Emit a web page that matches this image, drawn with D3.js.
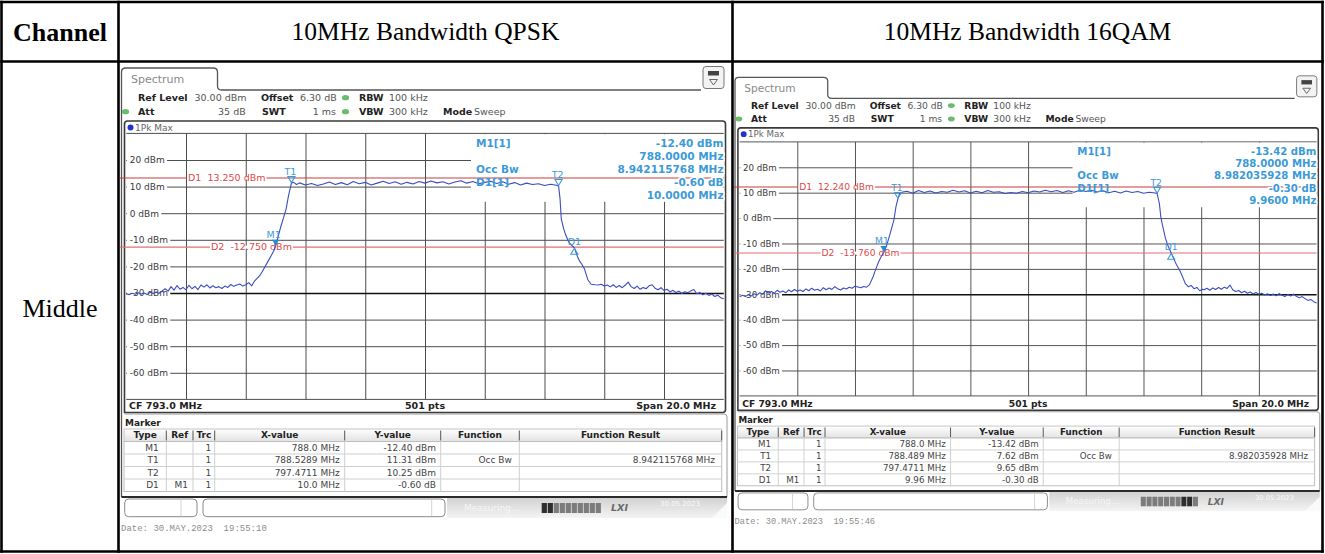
<!DOCTYPE html>
<html><head><meta charset="utf-8">
<script src="https://d3js.org/d3.v7.min.js"></script>
<style>
html,body{margin:0;padding:0;background:#fff;}
svg{display:block;}
text{white-space:pre;}
</style></head><body>
<svg id="chart" width="1325" height="554"></svg>
<script>
// ================= DATA =================
const headerLabels = ["Channel", "10MHz Bandwidth QPSK", "10MHz Bandwidth 16QAM"];
const rowLabels = ["Middle"];
const freqSpan = [783.0, 803.0];          // MHz  (CF 793.0 MHz, Span 20.0 MHz)
const levelRange = [30, -70];             // dBm  (Ref Level 30 dBm, 10 dB/div)
const levelTicks = [20, 10, 0, -10, -20, -30, -40, -50, -60];
const freqGridLines = [785, 787, 789, 791, 793, 795, 797, 799, 801];
const settingsLine1 = [["Ref Level", 1], ["30.00 dBm", 0], ["Offset", 1], ["6.30 dB", 0], ["RBW", 1], ["100 kHz", 0]];
const settingsLine2 = [["Att", 1], ["35 dB", 0], ["SWT", 1], ["1 ms", 0], ["VBW", 1], ["300 kHz", 0], ["Mode", 1], ["Sweep", 0]];
const footerLabels = ["CF 793.0 MHz", "501 pts", "Span 20.0 MHz"];
const tableHeaders = ["Type", "Ref", "Trc", "X-value", "Y-value", "Function", "Function Result"];

// QPSK trace [MHz, dBm]
const qpskTrace = [
[783.0,-30.3],[783.1,-30.6],[783.2,-30.1],[783.3,-30.5],[783.4,-29.9],[783.5,-30.4],[783.6,-30.0],[783.7,-30.6],[783.8,-29.7],[783.9,-30.2],
[784.0,-29.6],[784.1,-30.1],[784.2,-29.2],[784.3,-28.4],[784.4,-29.3],[784.5,-27.6],[784.6,-28.9],[784.7,-27.2],[784.8,-28.6],[784.9,-27.9],
[785.0,-28.8],[785.1,-27.1],[785.2,-28.4],[785.3,-27.5],[785.4,-28.7],[785.5,-27.0],[785.6,-27.8],[785.7,-26.9],[785.8,-28.1],[785.9,-27.3],
[786.0,-28.0],[786.1,-27.6],[786.2,-28.3],[786.3,-27.4],[786.4,-27.9],[786.5,-26.8],[786.6,-27.5],[786.7,-27.0],[786.8,-26.6],[786.9,-27.4],
[787.0,-26.9],[787.1,-26.1],[787.2,-27.3],[787.3,-25.4],[787.46,-23.6],[787.55,-22.0],[787.63,-20.4],[787.74,-18.2],[787.85,-16.0],[787.93,-14.3],
[788.0,-12.4],[788.08,-9.0],[788.18,-4.8],[788.27,-1.5],[788.35,1.5],[788.43,6.5],[788.5289,11.31],[788.6,11.6],[788.7,10.8],
[788.8,11.4],[789.0,10.6],[789.2,11.2],[789.4,10.4],[789.6,11.0],[789.8,11.7],[790.0,10.8],[790.2,11.5],[790.4,10.7],[790.6,11.9],
[790.8,11.1],[791.0,11.6],[791.2,10.6],[791.4,11.3],[791.6,12.0],[791.8,11.2],[792.0,11.8],[792.2,10.9],[792.4,11.6],[792.6,11.0],
[792.8,11.9],[793.0,11.3],[793.2,12.1],[793.4,11.4],[793.6,11.8],[793.8,11.0],[794.0,11.7],[794.2,12.2],[794.4,11.3],[794.6,11.9],
[794.8,11.1],[795.0,11.6],[795.2,12.0],[795.4,11.2],[795.6,11.8],[795.8,10.9],[796.0,11.5],[796.2,10.6],[796.4,11.3],[796.6,10.8],
[796.8,11.1],[797.0,10.4],[797.2,10.9],[797.4,10.5],[797.4711,10.25],
[797.52,5.5],[797.56,-2.0],[797.64,-5.8],[797.72,-8.5],[797.82,-11.0],[797.9,-12.0],[798.0,-13.0],[798.1,-16.2],[798.17,-17.9],[798.25,-19.2],
[798.34,-21.0],[798.45,-25.0],[798.56,-26.7],[798.7,-26.9],[798.8,-27.0],[798.9,-26.7],[799.0,-27.4],[799.1,-27.0],[799.2,-27.7],[799.3,-26.9],
[799.4,-27.9],[799.5,-27.2],[799.6,-28.0],[799.7,-27.1],[799.8,-25.9],[799.9,-27.6],[800.0,-28.3],[800.1,-27.4],[800.2,-28.6],[800.3,-27.9],
[800.4,-28.4],[800.5,-27.3],[800.6,-26.9],[800.7,-28.2],[800.8,-28.8],[800.9,-28.0],[801.0,-29.1],[801.1,-28.6],[801.2,-29.6],[801.3,-29.0],
[801.4,-29.8],[801.5,-29.3],[801.6,-30.2],[801.7,-29.5],[801.8,-29.9],[801.9,-29.2],[802.0,-28.7],[802.1,-30.3],[802.2,-29.8],[802.3,-30.7],
[802.4,-30.1],[802.5,-30.9],[802.6,-30.4],[802.7,-31.3],[802.8,-30.8],[802.9,-31.8],[803.0,-32.2]
];
// 16QAM trace [MHz, dBm]
const qam16Trace = [
[783.0,-31.0],[783.1,-30.4],[783.2,-30.9],[783.3,-30.2],[783.4,-30.7],[783.5,-29.8],[783.6,-30.3],[783.7,-29.4],[783.8,-30.0],[783.9,-28.6],
[784.0,-29.5],[784.1,-28.9],[784.2,-29.6],[784.3,-28.4],[784.4,-29.2],[784.5,-28.7],[784.6,-29.4],[784.7,-28.3],[784.8,-29.0],[784.9,-28.1],
[785.0,-28.8],[785.1,-28.3],[785.2,-28.9],[785.3,-27.9],[785.4,-28.6],[785.5,-27.6],[785.6,-28.4],[785.7,-28.0],[785.8,-28.7],[785.9,-27.4],
[786.0,-28.2],[786.1,-27.5],[786.2,-28.1],[786.3,-27.0],[786.4,-27.8],[786.5,-28.3],[786.6,-27.5],[786.7,-27.9],[786.8,-27.2],[786.9,-27.6],
[787.0,-26.8],[787.1,-27.1],[787.2,-27.4],[787.3,-26.9],[787.4,-27.2],[787.5,-26.3],[787.63,-23.0],[787.72,-20.1],[787.82,-17.2],[787.9,-15.3],
[788.0,-13.42],[788.1,-10.6],[788.22,-6.0],[788.35,-0.7],[788.42,4.5],[788.489,7.62],[788.55,9.8],[788.65,10.3],
[788.8,10.6],[789.0,9.8],[789.2,10.9],[789.4,10.1],[789.6,10.7],[789.8,9.9],[790.0,10.5],[790.2,10.2],[790.4,11.0],[790.6,10.3],
[790.8,10.8],[791.0,9.9],[791.2,10.6],[791.4,10.0],[791.6,10.9],[791.8,10.2],[792.0,10.4],[792.2,9.7],[792.4,10.1],[792.6,9.8],
[792.8,10.5],[793.0,10.0],[793.2,10.7],[793.4,10.3],[793.6,11.0],[793.8,10.4],[794.0,10.9],[794.2,10.1],[794.4,10.8],[794.6,10.2],
[794.8,11.1],[795.0,10.5],[795.2,11.0],[795.4,10.3],[795.6,10.8],[795.8,10.0],[796.0,10.6],[796.2,9.9],[796.4,10.7],[796.6,10.1],
[796.8,10.5],[797.0,9.8],[797.2,10.2],[797.4,9.9],[797.4711,9.65],
[797.55,5.8],[797.6,0.5],[797.65,-2.4],[797.7,-4.8],[797.76,-8.0],[797.85,-10.9],[797.96,-13.72],[798.05,-16.0],[798.15,-18.5],[798.25,-20.4],
[798.35,-23.0],[798.45,-25.8],[798.55,-27.0],[798.65,-26.5],[798.75,-27.8],[798.85,-27.3],[798.95,-28.6],[799.05,-28.0],[799.1,-28.2],[799.2,-27.6],
[799.3,-28.4],[799.4,-27.5],[799.5,-28.1],[799.6,-27.3],[799.7,-28.0],[799.8,-27.2],[799.9,-27.7],[800.0,-26.4],[800.1,-28.3],[800.2,-28.9],
[800.3,-28.5],[800.4,-29.4],[800.5,-28.8],[800.6,-29.6],[800.7,-29.1],[800.8,-29.9],[800.9,-29.3],[801.0,-30.0],[801.1,-29.6],[801.2,-30.3],
[801.3,-29.8],[801.4,-30.5],[801.5,-29.9],[801.6,-30.6],[801.7,-29.7],[801.8,-30.4],[801.9,-30.9],[802.0,-30.1],[802.1,-30.7],[802.2,-29.9],
[802.3,-30.8],[802.4,-31.4],[802.5,-30.9],[802.6,-31.7],[802.7,-32.4],[802.8,-32.0],[802.9,-32.9],[803.0,-33.4]
];

const qpskLines = [["D1", 13.25, "D1  13.250 dBm"], ["D2", -12.75, "D2  -12.750 dBm"]];
const qam16Lines = [["D1", 12.24, "D1  12.240 dBm"], ["D2", -13.76, "D2  -13.760 dBm"]];
const qpskMarkers = [["M1", 788.0, -12.40], ["T1", 788.5289, 11.31], ["T2", 797.4711, 10.25], ["D1", 798.0, -13.00]];
const qam16Markers = [["M1", 788.0, -13.42], ["T1", 788.489, 7.62], ["T2", 797.4711, 9.65], ["D1", 797.96, -13.72]];
const qpskInfo = [["M1[1]", "-12.40 dBm"], ["", "788.0000 MHz"], ["Occ Bw", "8.942115768 MHz"], ["D1[1]", "-0.60 dB"], ["", "10.0000 MHz"]];
const qam16Info = [["M1[1]", "-13.42 dBm"], ["", "788.0000 MHz"], ["Occ Bw", "8.982035928 MHz"], ["D1[1]", "-0.30 dB"], ["", "9.9600 MHz"]];
const qpskTable = [
  ["M1", "", "1", "788.0 MHz", "-12.40 dBm", "", ""],
  ["T1", "", "1", "788.5289 MHz", "11.31 dBm", "Occ Bw", "8.942115768 MHz"],
  ["T2", "", "1", "797.4711 MHz", "10.25 dBm", "", ""],
  ["D1", "M1", "1", "10.0 MHz", "-0.60 dB", "", ""]];
const qam16Table = [
  ["M1", "", "1", "788.0 MHz", "-13.42 dBm", "", ""],
  ["T1", "", "1", "788.489 MHz", "7.62 dBm", "Occ Bw", "8.982035928 MHz"],
  ["T2", "", "1", "797.4711 MHz", "9.65 dBm", "", ""],
  ["D1", "M1", "1", "9.96 MHz", "-0.30 dB", "", ""]];
const qpskDate = "Date: 30.MAY.2023  19:55:10";
const qam16Date = "Date: 30.MAY.2023  19:55:46";

// ================= LAYOUT / STYLE =================
const SANS = "'DejaVu Sans', Verdana, sans-serif";
const MONO = "'Liberation Mono', 'Courier New', monospace";
const SERIF = "'Liberation Serif', 'Times New Roman', serif";
const C_TRACE = "#3a4cc0", C_INFO = "#3c9ad8", C_RED = "#dc4a4a", C_GRID = "#4d4d4d";

const svg = d3.select("#chart");
svg.append("rect").attr("width", 1325).attr("height", 554).attr("fill", "#fff");
const defs = svg.append("defs");

function txt(g, s, x, y, o = {}) {
  return g.append("text").attr("x", x).attr("y", y).attr("dy", "0.35em")
    .attr("font-family", o.family || SANS).attr("font-size", o.size || 9)
    .attr("font-weight", o.bold ? "bold" : "normal").attr("font-style", o.italic ? "italic" : "normal")
    .attr("fill", o.fill || "#333").attr("text-anchor", o.anchor || "start").text(s);
}

function drawPanel(P) {
  const g = svg.append("g").attr("transform", `translate(${P.tx},${P.ty}) scale(${P.sx},${P.sy})`);
  const T = P.topShift, B = P.botShift;
  const x = d3.scaleLinear().domain(freqSpan).range([126.25, 723.75]);
  const y = d3.scaleLinear().domain(levelRange).range([133.4, 399.4]);
  const [gx0, gx1] = x.range(), [gy0, gy1] = y.range();
  const gw = gx1 - gx0, gh = gy1 - gy0;

  // --- tab + header ---
  g.append("path").attr("d",
    `M121.5,${497 + B} V${72 + T} Q121.5,${68 + T} 125.5,${68 + T} H213 Q217.5,${68 + T} 217.5,${72 + T} V${86 + T} Q217.5,${90 + T} 221.5,${90 + T} H701`)
    .attr("fill", "none").attr("stroke", "#555").attr("stroke-width", 1.3);
  txt(g, "Spectrum", 131, 79.5 + T, { size: 11, fill: "#8a8a8a" });
  g.append("rect").attr("x", 703).attr("y", 66.5 + T).attr("width", 21).attr("height", 22).attr("rx", 3)
    .attr("fill", "#f3f3f3").attr("stroke", "#777");
  g.append("rect").attr("x", 708).attr("y", 71 + T).attr("width", 11).attr("height", 4.5).attr("fill", "#444");
  g.append("path").attr("d", `M709.5,${79.5 + T} L717.5,${79.5 + T} L713.5,${85 + T} Z`).attr("fill", "none").attr("stroke", "#666");

  const l1x = [138, 194.5, 261, 300, 359, 389];
  settingsLine1.forEach((d, i) => txt(g, d[0], l1x[i], 97.7 + T, { size: 9.5, bold: d[1], fill: d[1] ? "#222" : "#555" }));
  const l2x = [138, 245.7, 262, 336, 359, 389, 443, 474];
  const l2a = ["start", "end", "start", "end", "start", "start", "start", "start"];
  settingsLine2.forEach((d, i) => txt(g, d[0], l2x[i], 111.7 + T, { size: 9.5, bold: d[1], fill: d[1] ? "#222" : "#555", anchor: l2a[i] }));
  [[345.5, 97.7], [345.5, 111.7], [125.5, 111.7]].forEach(p =>
    g.append("ellipse").attr("cx", p[0]).attr("cy", p[1] + T).attr("rx", 3.6).attr("ry", 2.6).attr("fill", "#6dbb6d"));

  // --- plot frame ---
  g.append("path").attr("d",
    `M124.5,${412.5 + B} V${124 + T} Q124.5,${121 + T} 127.5,${121 + T} H722.5 Q725.5,${121 + T} 725.5,${124 + T} V${409.5 + B} Q725.5,${412.5 + B} 722.5,${412.5 + B} Z`)
    .attr("fill", "#fff").attr("stroke", "#3a3a3a").attr("stroke-width", 1.6);
  g.append("circle").attr("cx", 130.5).attr("cy", 127.6 + T).attr("r", 3).attr("fill", "#2233cc");
  txt(g, "1Pk Max", 135, 127.6 + T, { size: 9, fill: "#666" });

  // vertical grid (axis)
  const vg = g.append("g").attr("transform", `translate(0,${gy1})`)
    .call(d3.axisBottom(x).tickValues(freqGridLines).tickSize(-gh).tickFormat(""));
  vg.select(".domain").remove();
  vg.selectAll("line").attr("stroke", C_GRID).attr("stroke-width", 1);
  g.append("line").attr("x1", gx0).attr("x2", gx1).attr("y1", gy0).attr("y2", gy0).attr("stroke", C_GRID);
  g.append("line").attr("x1", gx0).attr("x2", gx1).attr("y1", gy1).attr("y2", gy1).attr("stroke", C_GRID);
  // horizontal grid (axis with inside labels)
  const hg = g.append("g").attr("transform", `translate(${gx0},0)`)
    .call(d3.axisRight(y).tickValues(levelTicks).tickSize(gw).tickPadding(3.5 - gw).tickFormat(d => d + " dBm"));
  hg.select(".domain").remove();
  hg.attr("font-family", SANS).attr("font-size", 9);
  hg.selectAll("line").attr("stroke", d => d === -30 ? "#111" : C_GRID).attr("stroke-width", d => d === -30 ? 1.5 : 1);
  hg.selectAll("text").attr("fill", "#3a3a3a").attr("text-anchor", "start");
  hg.selectAll(".tick").each(function () {
    const t = d3.select(this).select("text"), bb = t.node().getBBox();
    d3.select(this).insert("rect", "text").attr("x", 0.8).attr("y", bb.y + 1.5)
      .attr("width", bb.x + bb.width + 1.5).attr("height", bb.height - 3).attr("fill", "#fff");
  });
  // info area mask
  g.append("rect").attr("x", 471).attr("y", gy0 + 0.8).attr("width", gx1 - 471 - 0.5).attr("height", 201 - gy0).attr("fill", "#fff");

  // display lines
  P.lines.forEach((d, i) => {
    const yy = y(d[1]);
    g.append("line").attr("x1", 120).attr("x2", gx1).attr("y1", yy).attr("y2", yy)
      .attr("stroke", i === 0 ? "#c83c3c" : "#e07070").attr("stroke-width", 1.1);
    const lx = i === 0 ? 188 : 211;
    const t = txt(g, d[2], lx, yy, { size: 9.5, fill: C_RED });
    const bb = t.node().getBBox();
    g.insert("rect", () => t.node()).attr("x", bb.x - 1).attr("y", yy - 1.5).attr("width", bb.width + 2).attr("height", 3).attr("fill", "#fff");
  });

  // trace
  g.append("path").datum(P.trace).attr("fill", "none").attr("stroke", C_TRACE).attr("stroke-width", 1.1)
    .attr("stroke-linejoin", "round")
    .attr("d", d3.line().x(d => x(d[0])).y(d => y(d[1])));

  // markers
  P.markers.forEach(m => {
    const cx = x(m[1]), cy = y(m[2]), k = m[0][0];
    if (k === "M") {
      g.append("path").attr("d", `M${cx - 3.6},${cy - 6.5} L${cx + 3.6},${cy - 6.5} L${cx},${cy - 0.5} Z`).attr("fill", "#1f8fd6");
      txt(g, m[0], cx - 2, cy - 11.5, { size: 9.5, fill: C_INFO, anchor: "middle" });
    } else if (k === "T") {
      g.append("path").attr("d", `M${cx - 3.6},${cy - 6.5} L${cx + 3.6},${cy - 6.5} L${cx},${cy - 0.5} Z`)
        .attr("fill", "none").attr("stroke", C_INFO).attr("stroke-width", 1.1);
      txt(g, m[0], cx - 1, cy - 11.5, { size: 9.5, fill: C_INFO, anchor: "middle" });
    } else {
      g.append("path").attr("d", `M${cx},${cy + 0.5} L${cx - 3.6},${cy + 6.5} L${cx + 3.6},${cy + 6.5} Z`)
        .attr("fill", "none").attr("stroke", C_INFO).attr("stroke-width", 1.1);
      txt(g, m[0], cx, cy - 6.3, { size: 9.5, fill: C_INFO, anchor: "middle" });
    }
  });

  // marker info block
  P.info.forEach((d, i) => {
    const yy = 143 + i * 13;
    if (d[0]) txt(g, d[0], 476, yy, { size: 10.5, bold: 1, fill: C_INFO });
    txt(g, d[1], 723.5, yy, { size: 10.5, bold: 1, fill: C_INFO, anchor: "end" })
      .attr("stroke", "#fff").attr("stroke-width", 3).attr("paint-order", "stroke");
  });

  // footer of diagram
  txt(g, footerLabels[0], 129, 406 + B, { size: 9.5, bold: 1, fill: "#222" });
  txt(g, footerLabels[1], 425, 406 + B, { size: 9.5, bold: 1, fill: "#222", anchor: "middle" });
  txt(g, footerLabels[2], 716, 406 + B, { size: 9.5, bold: 1, fill: "#222", anchor: "end" });

  // --- marker table ---
  g.append("path").attr("d", `M124.5,${414 + B} H724 Q727,${414 + B} 727,${417 + B} V${497 + B}`)
    .attr("fill", "none").attr("stroke", "#9a9a9a");
  g.append("line").attr("x1", 121.5).attr("x2", 727).attr("y1", 497 + B).attr("y2", 497 + B).attr("stroke", "#2a2a2a").attr("stroke-width", 2);
  txt(g, "Marker", 125, 422.7 + B, { size: 9, bold: 1, fill: "#222" });
  const cb = [124, 166.3, 193, 214.7, 344.7, 440.7, 519.3, 721.7];
  const hTop = 429 + B, hBot = 441.5 + B, rh = 12.5;
  const grad = "hg" + P.id;
  const lg = defs.append("linearGradient").attr("id", grad).attr("x1", 0).attr("x2", 0).attr("y1", 0).attr("y2", 1);
  lg.append("stop").attr("offset", 0).attr("stop-color", "#ffffff");
  lg.append("stop").attr("offset", 1).attr("stop-color", "#e2e2e2");
  g.append("rect").attr("x", cb[0]).attr("y", hTop).attr("width", cb[7] - cb[0]).attr("height", hBot - hTop)
    .attr("fill", `url(#${grad})`).attr("stroke", "#c4c4c4");
  g.append("rect").attr("x", cb[0]).attr("y", hBot).attr("width", cb[7] - cb[0]).attr("height", rh * 4)
    .attr("fill", "#fff").attr("stroke", "#bdbdbd");
  for (let r = 1; r < 4; r++)
    g.append("line").attr("x1", cb[0]).attr("x2", cb[7]).attr("y1", hBot + r * rh).attr("y2", hBot + r * rh).attr("stroke", "#cfcfcf");
  cb.slice(1, 7).forEach(c => {
    g.append("line").attr("x1", c).attr("x2", c).attr("y1", hTop + 1.5).attr("y2", hBot - 1).attr("stroke", "#555");
    g.append("line").attr("x1", c).attr("x2", c).attr("y1", hBot).attr("y2", hBot + 4 * rh).attr("stroke", "#cfcfcf");
  });
  g.append("line").attr("x1", cb[7]).attr("x2", cb[7]).attr("y1", hTop + 1.5).attr("y2", hBot - 1).attr("stroke", "#555");
  tableHeaders.forEach((h, i) => txt(g, h, (cb[i] + cb[i + 1]) / 2, (hTop + hBot) / 2, { size: 9, bold: 1, fill: "#222", anchor: "middle" }));
  const pad = [7.5, 5, 3.5, 5, 4.7, 7.5, 6.7];
  P.table.forEach((row, r) => row.forEach((v, i) => {
    if (v) txt(g, v, cb[i + 1] - pad[i], hBot + rh * (r + 0.5), { size: 9, fill: "#444", anchor: "end" });
  }));

  // --- status bar ---
  const sgId = "sg" + P.id;
  const sg = defs.append("linearGradient").attr("id", sgId).attr("x1", 0).attr("x2", 0).attr("y1", 0).attr("y2", 1);
  sg.append("stop").attr("offset", 0).attr("stop-color", "#d2d2d2");
  sg.append("stop").attr("offset", 1).attr("stop-color", "#f4f4f4");
  g.append("rect").attr("x", 447).attr("y", 498 + B).attr("width", 280).attr("height", 20).attr("fill", `url(#${sgId})`);
  g.append("path").attr("d", `M712,${518 + B} L727,${503 + B} L727,${518 + B} Z`).attr("fill", "#fafafa");
  g.append("rect").attr("x", 124.7).attr("y", 499 + B).attr("width", 72.3).attr("height", 17.7).attr("rx", 4)
    .attr("fill", "#fff").attr("stroke", "#8a8a8a");
  g.append("line").attr("x1", 181).attr("x2", 181).attr("y1", 500 + B).attr("y2", 516 + B).attr("stroke", "#d4d4d4");
  g.append("rect").attr("x", 203).attr("y", 499 + B).attr("width", 242).attr("height", 17.7).attr("rx", 4)
    .attr("fill", "#fff").attr("stroke", "#8a8a8a");
  g.append("line").attr("x1", 431.7).attr("x2", 431.7).attr("y1", 500 + B).attr("y2", 516 + B).attr("stroke", "#d4d4d4");
  txt(g, "Measuring...", 464, 507.5 + B, { size: 9, fill: "#f6f6f6" });
  for (let s = 0; s < 10; s++)
    g.append("rect").attr("x", 541.7 + s * 6).attr("y", 503 + B).attr("width", 5.2).attr("height", 10)
      .attr("fill", P.darkSeg.includes(s) ? "#2e2e2e" : "#7c7c7c");
  txt(g, "LXI", 611, 508 + B, { size: 9.5, bold: 1, italic: 1, fill: "#6a6a6a" });
  txt(g, "30.05.2023", 660, 504 + B, { size: 7, fill: "#fbfbfb" });
  txt(g, P.date, 121, 528 + B, { family: MONO, size: 9, fill: "#8d8d8d" });
}

drawPanel({ id: "a", tx: 0, ty: 0, sx: 1, sy: 1, topShift: 0, botShift: 0,
  trace: qpskTrace, lines: qpskLines, markers: qpskMarkers, info: qpskInfo, table: qpskTable, date: qpskDate, darkSeg: [0, 1] });
drawPanel({ id: "b", tx: 617.68, ty: 14.52, sx: 0.9657, sy: 0.9549, topShift: -2.3, botShift: 2,
  trace: qam16Trace, lines: qam16Lines, markers: qam16Markers, info: qam16Info, table: qam16Table, date: qam16Date, darkSeg: [7, 8] });

// ================= TABLE FRAME =================
const colX = [1.5, 118.5, 732.5, 1322.5];
const rowY = [2, 61.5, 551.5];
const frame = svg.append("g").attr("stroke", "#000").attr("stroke-width", 2.6);
colX.forEach(c => frame.append("line").attr("x1", c).attr("x2", c).attr("y1", rowY[0] - 1.3).attr("y2", rowY[2] + 1.3));
rowY.forEach(r => frame.append("line").attr("x1", colX[0] - 1.3).attr("x2", colX[3] + 1.3).attr("y1", r).attr("y2", r));

txt(svg, headerLabels[0], (colX[0] + colX[1]) / 2, 31.5, { family: SERIF, size: 26, bold: 1, fill: "#000", anchor: "middle" });
txt(svg, headerLabels[1], (colX[1] + colX[2]) / 2, 31.5, { family: SERIF, size: 25.5, fill: "#000", anchor: "middle" });
txt(svg, headerLabels[2], (colX[2] + colX[3]) / 2, 31.5, { family: SERIF, size: 25.5, fill: "#000", anchor: "middle" });
txt(svg, rowLabels[0], (colX[0] + colX[1]) / 2, 308, { family: SERIF, size: 26, fill: "#000", anchor: "middle" });
</script>
</body></html>
